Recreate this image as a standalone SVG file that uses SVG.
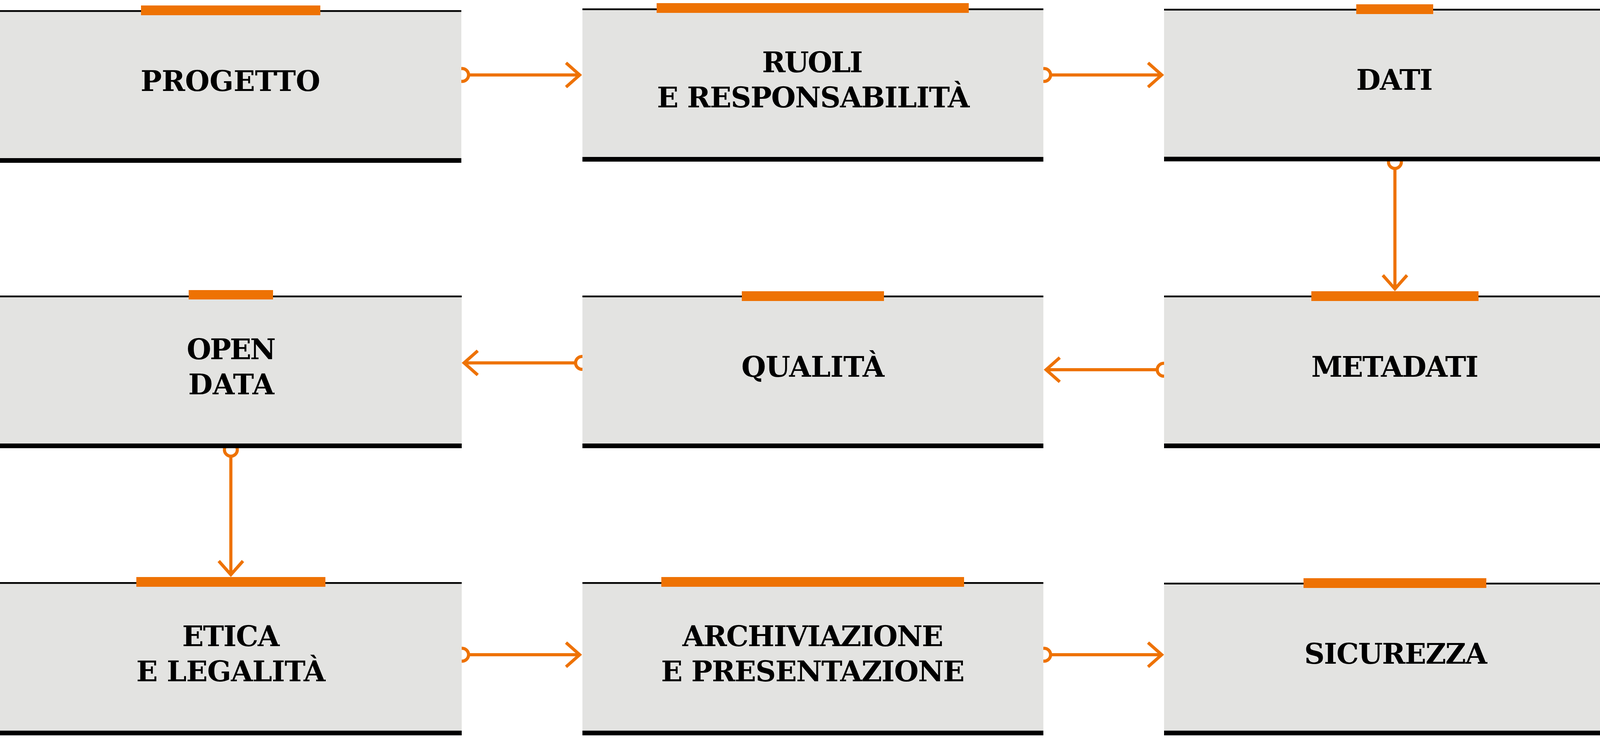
<svg xmlns="http://www.w3.org/2000/svg" width="4162" height="1898" viewBox="0 0 4162 1898">
  <style>
    .bg { fill: #e3e3e1; }
    .ink { fill: #000000; }
    .accent { fill: #ee7203; }
    .label { font-family: "DejaVu Serif", "Liberation Serif", serif; font-weight: bold; font-size: 72px; fill: #000000; text-anchor: middle; }
    .conn { stroke: #ee7203; stroke-width: 8; fill: none; marker-start: url(#ring); marker-end: url(#chevron); }
  </style>
  <defs>
    <marker id="ring" markerUnits="userSpaceOnUse" viewBox="-25 -25 50 50" markerWidth="50" markerHeight="50" refX="0" refY="0" orient="auto">
      <circle cx="0" cy="0" r="16.5" fill="#ffffff" stroke="#ee7203" stroke-width="8"/>
    </marker>
    <marker id="chevron" markerUnits="userSpaceOnUse" viewBox="-45 -40 60 80" markerWidth="60" markerHeight="80" refX="0" refY="0" orient="auto">
      <path d="M-35,-31 L0,0 L-35,31" fill="none" stroke="#ee7203" stroke-width="8" stroke-linejoin="miter" stroke-miterlimit="10"/>
    </marker>
  </defs>
  <rect x="0" y="0" width="4162" height="1898" fill="#ffffff"/>

  <g id="connectors">
    <path class="conn" d="M1183,192 H1484"/>
    <path class="conn" d="M2673,192 H2974"/>
    <path class="conn" d="M3571,415 V740"/>
    <path class="conn" d="M2979,947 H2678"/>
    <path class="conn" d="M1490,929.5 H1188"/>
    <path class="conn" d="M591,1152 V1472"/>
    <path class="conn" d="M1183,1677 H1484"/>
    <path class="conn" d="M2673,1677 H2974"/>
  </g>

  <g id="node-progetto">
    <rect class="bg" x="0" y="30" width="1181" height="375"/>
    <rect class="ink" x="0" y="26" width="1181" height="4.5"/>
    <rect class="ink" x="0" y="405" width="1181" height="12"/>
    <rect class="accent" x="361" y="14" width="459" height="25"/>
    <text class="label" x="590" y="233" textLength="460" lengthAdjust="spacing">PROGETTO</text>
  </g>

  <g id="node-ruoli">
    <rect class="bg" x="1491" y="25.5" width="1180" height="377"/>
    <rect class="ink" x="1491" y="21.5" width="1180" height="4.5"/>
    <rect class="ink" x="1491" y="402" width="1180" height="12"/>
    <rect class="accent" x="1681" y="8" width="799" height="25"/>
    <text class="label" x="2080" y="185" textLength="258" lengthAdjust="spacing">RUOLI</text>
    <text class="label" x="2082" y="275" textLength="800" lengthAdjust="spacing">E RESPONSABILITÀ</text>
  </g>

  <g id="node-dati">
    <rect class="bg" x="2980" y="26.5" width="1182" height="375.5"/>
    <rect class="ink" x="2980" y="22.5" width="1182" height="4.5"/>
    <rect class="ink" x="2980" y="401.5" width="1182" height="11.8"/>
    <rect class="accent" x="3472" y="11" width="197" height="25"/>
    <text class="label" x="3570" y="230" textLength="196" lengthAdjust="spacing">DATI</text>
  </g>

  <g id="node-open-data">
    <rect class="bg" x="0" y="761" width="1182" height="375"/>
    <rect class="ink" x="0" y="757" width="1182" height="4.5"/>
    <rect class="ink" x="0" y="1136" width="1182" height="12"/>
    <rect class="accent" x="483" y="743" width="216" height="24"/>
    <text class="label" x="592" y="920" textLength="228" lengthAdjust="spacing">OPEN</text>
    <text class="label" x="592" y="1010" textLength="220" lengthAdjust="spacing">DATA</text>
  </g>

  <g id="node-qualita">
    <rect class="bg" x="1491" y="761" width="1180" height="375"/>
    <rect class="ink" x="1491" y="757" width="1180" height="4.5"/>
    <rect class="ink" x="1491" y="1136" width="1180" height="12"/>
    <rect class="accent" x="1899" y="746" width="364" height="25"/>
    <text class="label" x="2081" y="965" textLength="366" lengthAdjust="spacing">QUALITÀ</text>
  </g>

  <g id="node-metadati">
    <rect class="bg" x="2980" y="761" width="1182" height="375"/>
    <rect class="ink" x="2980" y="757" width="1182" height="4.5"/>
    <rect class="ink" x="2980" y="1136" width="1182" height="12"/>
    <rect class="accent" x="3357" y="746" width="428" height="25"/>
    <text class="label" x="3571" y="965" textLength="428" lengthAdjust="spacing">METADATI</text>
  </g>

  <g id="node-etica">
    <rect class="bg" x="0" y="1495" width="1182" height="377"/>
    <rect class="ink" x="0" y="1491" width="1182" height="4.5"/>
    <rect class="ink" x="0" y="1871.5" width="1182" height="12"/>
    <rect class="accent" x="349" y="1478" width="484" height="25"/>
    <text class="label" x="591" y="1655" textLength="249" lengthAdjust="spacing">ETICA</text>
    <text class="label" x="591" y="1745" textLength="484" lengthAdjust="spacing">E LEGALITÀ</text>
  </g>

  <g id="node-archiviazione">
    <rect class="bg" x="1491" y="1495" width="1180" height="377"/>
    <rect class="ink" x="1491" y="1491" width="1180" height="4.5"/>
    <rect class="ink" x="1491" y="1871.5" width="1180" height="12"/>
    <rect class="accent" x="1693" y="1478" width="775" height="25"/>
    <text class="label" x="2081" y="1655" textLength="668" lengthAdjust="spacing">ARCHIVIAZIONE</text>
    <text class="label" x="2081" y="1745" textLength="777" lengthAdjust="spacing">E PRESENTAZIONE</text>
  </g>

  <g id="node-sicurezza">
    <rect class="bg" x="2980" y="1496.5" width="1182" height="375.5"/>
    <rect class="ink" x="2980" y="1492.5" width="1182" height="4.5"/>
    <rect class="ink" x="2980" y="1871.5" width="1182" height="12"/>
    <rect class="accent" x="3337" y="1481" width="468" height="25"/>
    <text class="label" x="3573" y="1700" textLength="468" lengthAdjust="spacing">SICUREZZA</text>
  </g>
</svg>
